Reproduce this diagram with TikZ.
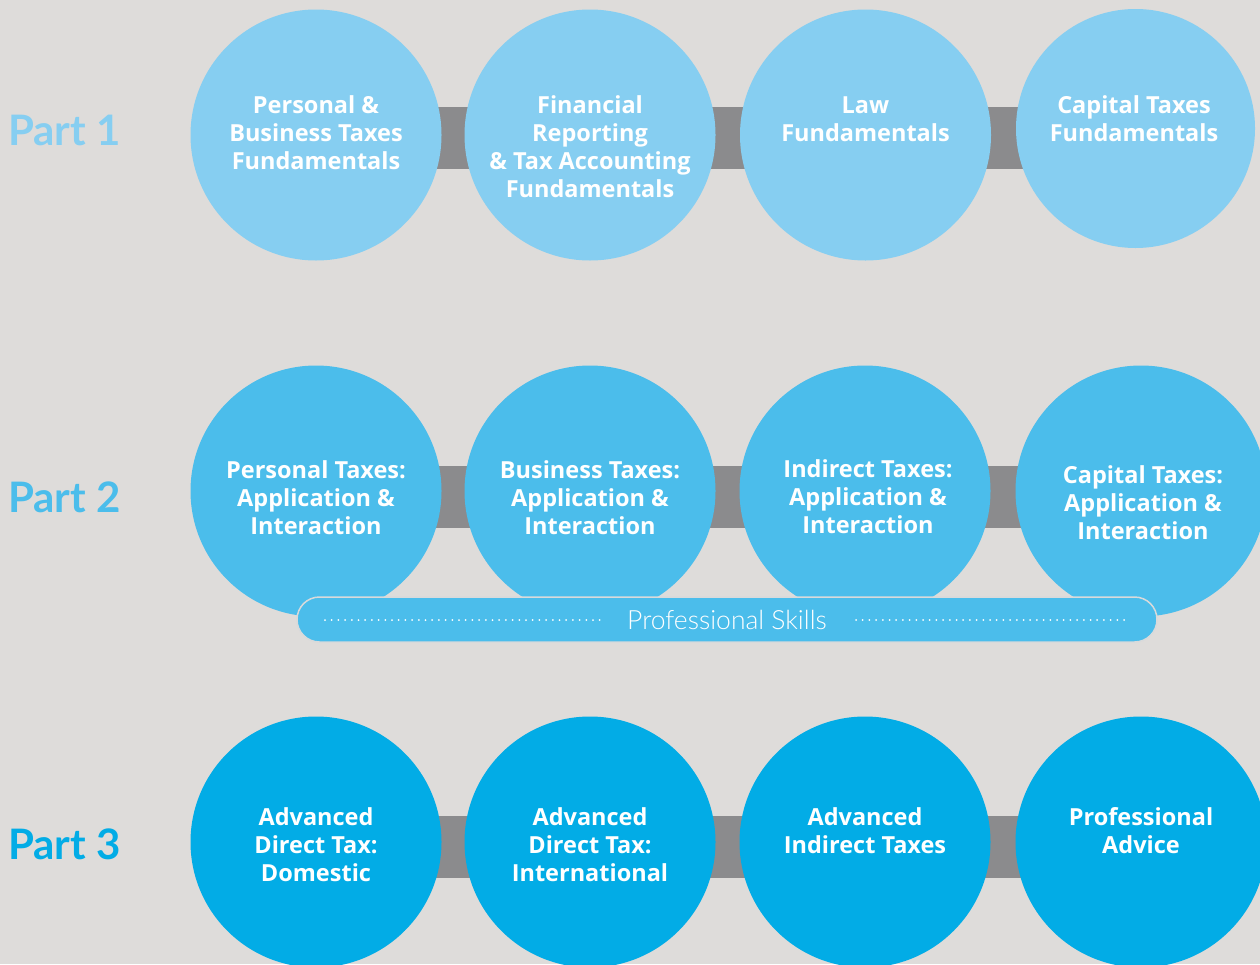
\documentclass[tikz,border=0pt]{standalone}
\usepackage{fontspec}
\setmainfont{Open Sans}
\newfontfamily\partfont{Lato}
\newfontfamily\lightfont{Lato Light}
\definecolor{paper}{HTML}{DEDCDA}
\definecolor{rowone}{HTML}{86CEF1}
\definecolor{rowtwo}{HTML}{4BBDEB}
\definecolor{rowthree}{HTML}{02ACE6}
\definecolor{linkgray}{HTML}{8B8B8D}
\definecolor{skillrim}{HTML}{D8DADB}
\begin{document}
\begin{tikzpicture}[x=1pt,y=-1pt,
		bubble/.style={circle,minimum size=251pt,inner sep=0pt},
		bubtext/.style={anchor=base,align=center,text=white,inner sep=0pt,
			font=\fontsize{23.5}{28}\selectfont\bfseries},
		partlabel/.style={anchor=base west,inner sep=0pt,font=\fontsize{42}{48}\selectfont\partfont\bfseries},
		link/.style={draw=linkgray,line width=62pt},
		skillbar/.style={rectangle,rounded corners=22.5pt,minimum width=860pt,minimum height=45pt,
			fill=rowtwo,draw=skillrim,line width=1.5pt},
		dots/.style={draw=white,line width=2pt,line cap=round,dash pattern=on 0pt off 6.7pt}]
			\useasboundingbox (0,0) rectangle (1260,964);
			\clip (0,0) rectangle (1260,964);
			\fill[paper] (0,0) rectangle (1260,964);
			% grey links behind each row
			\coordinate (a1) at (316,137.5);
			\coordinate (b1) at (1135,137.5);
			\coordinate (a2) at (316,496.5);
			\coordinate (b2) at (1141,496.5);
			\coordinate (a3) at (316,846.5);
			\coordinate (b3) at (1141,846.5);
			\draw[link] (a1) to (b1);
			\draw[link] (a2) to (b2);
			\draw[link] (a3) to (b3);
			% part 1
			\node[bubble,fill=rowone] (c11) at (316,135) {};
			\node[bubble,fill=rowone] (c12) at (590,135) {};
			\node[bubble,fill=rowone] (c13) at (865.5,135) {};
			\node[bubble,fill=rowone,minimum size=239pt] (c14) at (1135.5,128.5) {};
			\node[partlabel,text=rowone] (p1) at (8,145) {Part 1};
			\node[bubtext] (t11) at (316,169) {Personal \&\\Business Taxes\\Fundamentals};
			\node[bubtext] (t12) at (590,197) {Financial\\Reporting\\\& Tax Accounting\\Fundamentals};
			\node[bubtext] (t13) at (865.5,141) {Law\\Fundamentals};
			\node[bubtext] (t14) at (1134,141) {Capital Taxes\\Fundamentals};
			% part 2
			\node[bubble,fill=rowtwo] (c21) at (316,491) {};
			\node[bubble,fill=rowtwo] (c22) at (590,491) {};
			\node[bubble,fill=rowtwo] (c23) at (865,491) {};
			\node[bubble,fill=rowtwo] (c24) at (1141,491) {};
			\node[partlabel,text=rowtwo] (p2) at (8,512) {Part 2};
			\node[bubtext] (t21) at (316,534) {Personal Taxes:\\Application \&\\Interaction};
			\node[bubtext] (t22) at (590,534) {Business Taxes:\\Application \&\\Interaction};
			\node[bubtext] (t23) at (868,533) {Indirect Taxes:\\Application \&\\Interaction};
			\node[bubtext] (t24) at (1143,539) {Capital Taxes:\\Application \&\\Interaction};
			\node[skillbar] (ps) at (727,619.5) {};
			\coordinate (s1) at (325,620);
			\coordinate (s2) at (600,620);
			\coordinate (s3) at (856,620);
			\coordinate (s4) at (1130,620);
			\draw[dots] (s1) to (s2);
			\draw[dots] (s3) to (s4);
			\node[text=white,font=\fontsize{26.5}{28}\selectfont\lightfont] (pst) at (ps.center) {Professional Skills};
			% part 3
			\node[bubble,fill=rowthree] (c31) at (316,842) {};
			\node[bubble,fill=rowthree] (c32) at (590,842) {};
			\node[bubble,fill=rowthree] (c33) at (865,842) {};
			\node[bubble,fill=rowthree] (c34) at (1141,842) {};
			\node[partlabel,text=rowthree] (p3) at (8,859) {Part 3};
			\node[bubtext] (t31) at (316,881) {Advanced\\Direct Tax:\\Domestic};
			\node[bubtext] (t32) at (590,881) {Advanced\\Direct Tax:\\International};
			\node[bubtext] (t33) at (865,853) {Advanced\\Indirect Taxes};
			\node[bubtext] (t34) at (1141,853) {Professional\\Advice};
		\end{tikzpicture}
\end{document}
